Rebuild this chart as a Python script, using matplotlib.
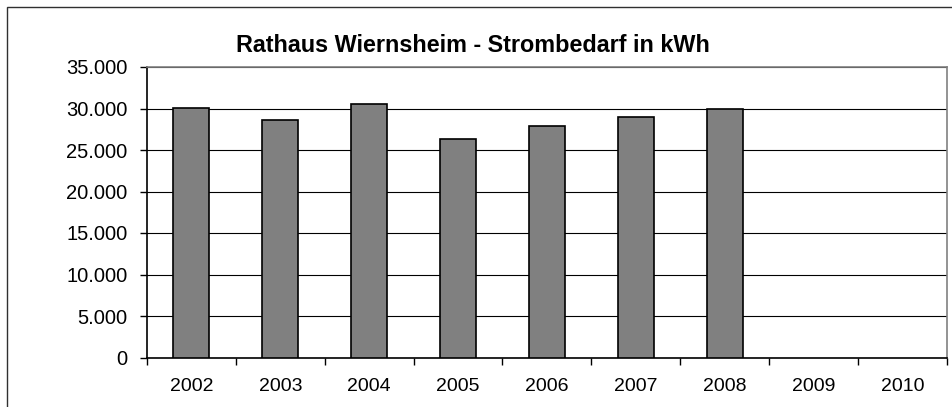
import matplotlib
matplotlib.use('Agg')
import matplotlib.pyplot as plt
from matplotlib.patches import Rectangle
from matplotlib.ticker import FuncFormatter, FixedLocator

plt.rcParams['font.family'] = ['Liberation Sans', 'DejaVu Sans']

years = ['2002', '2003', '2004', '2005', '2006', '2007', '2008', '2009', '2010']
# Strombedarf in kWh (2009, 2010 ohne Werte)
verbrauch = [30100, 28600, 30600, 26300, 27900, 29000, 30000]

W, H = 953, 407
fig = plt.figure(figsize=(W / 100, H / 100), dpi=100)

# Rahmen des Diagrammbereichs (rechts und unten abgeschnitten)
fig.patches.append(Rectangle((7 / W, -0.1), (965 - 7) / W, (H - 7) / H + 0.1,
                             transform=fig.transFigure, fill=False,
                             edgecolor='#303030', linewidth=1.0, zorder=0))

ax = fig.add_axes([147 / W, (H - 357.5) / H, (946.7 - 147) / W, (357.5 - 67) / H])

x = list(range(len(verbrauch)))
ax.bar(x, verbrauch, width=0.405, color='#808080', edgecolor='black',
       linewidth=1.2, zorder=3)

ax.set_xlim(-0.5, len(years) - 0.5)
ax.set_ylim(0, 35000)
ax.set_yticks(range(0, 35001, 5000))
ax.yaxis.set_major_formatter(FuncFormatter(lambda v, p: f'{int(v):,}'.replace(',', '.')))
ax.grid(axis='y', color='black', linewidth=0.8, zorder=1)
ax.set_axisbelow(True)

ax.set_xticks(range(len(years)))
ax.set_xticklabels(years)
ax.xaxis.set_minor_locator(FixedLocator([i - 0.5 for i in range(len(years) + 1)]))
ax.tick_params(axis='x', which='major', length=0, pad=15, labelsize=14)
ax.tick_params(axis='x', which='minor', length=5, width=1.0, direction='out')
ax.tick_params(axis='y', length=5, width=1.0, direction='out', pad=9, labelsize=14.5)

for s in ['top', 'right']:
    ax.spines[s].set_color('#808080')
    ax.spines[s].set_linewidth(1.2)
for s in ['left', 'bottom']:
    ax.spines[s].set_color('black')
    ax.spines[s].set_linewidth(1.2)

fig.text(473 / W, (H - 45) / H, 'Rathaus Wiernsheim - Strombedarf in kWh',
         ha='center', va='center', fontsize=16.8, fontweight='bold')

fig.savefig('out.png', dpi=100)
